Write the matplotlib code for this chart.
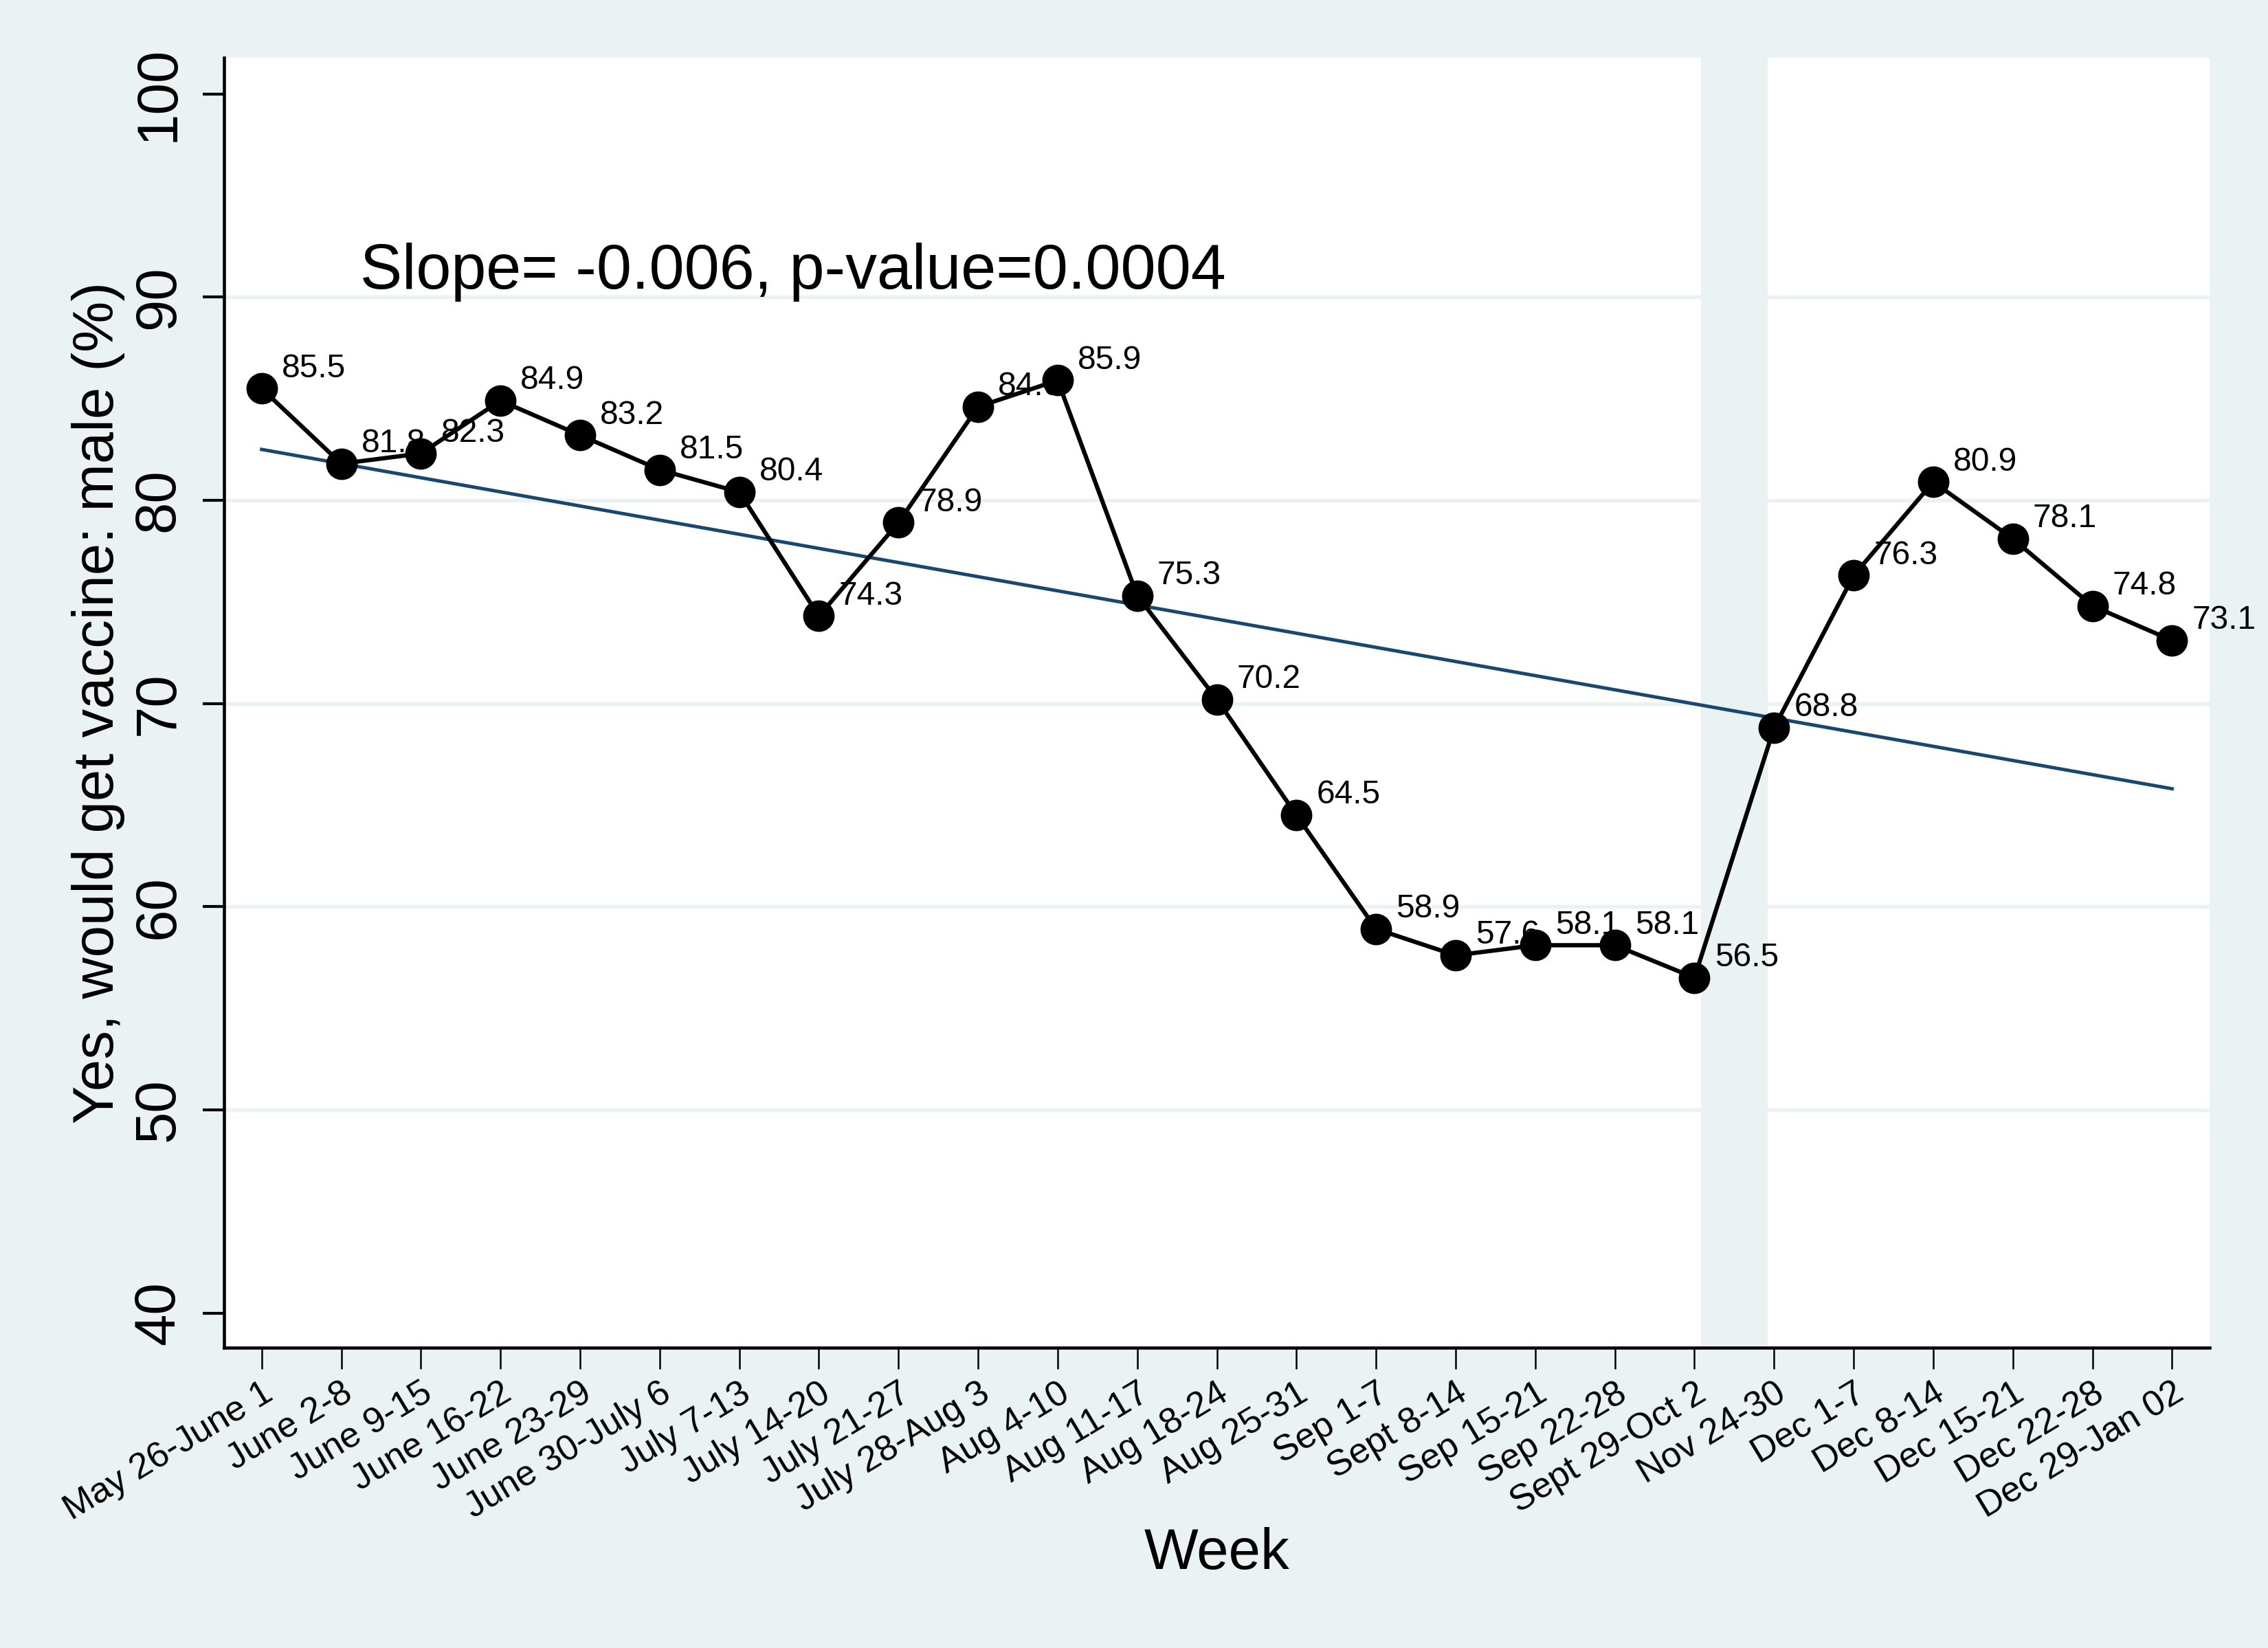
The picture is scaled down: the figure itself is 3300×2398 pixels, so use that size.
import matplotlib
matplotlib.use("Agg")
import matplotlib.pyplot as plt

# survey weeks and share of men who would get the vaccine (%)
weeks = ["May 26-June 1", "June 2-8", "June 9-15", "June 16-22", "June 23-29",
         "June 30-July 6", "July 7-13", "July 14-20", "July 21-27", "July 28-Aug 3",
         "Aug 4-10", "Aug 11-17", "Aug 18-24", "Aug 25-31", "Sep 1-7",
         "Sept 8-14", "Sep 15-21", "Sep 22-28", "Sept 29-Oct 2", "Nov 24-30",
         "Dec 1-7", "Dec 8-14", "Dec 15-21", "Dec 22-28", "Dec 29-Jan 02"]
pct_male = [85.5, 81.8, 82.3, 84.9, 83.2, 81.5, 80.4, 74.3, 78.9, 84.6,
            85.9, 75.3, 70.2, 64.5, 58.9, 57.6, 58.1, 58.1, 56.5, 68.8,
            76.3, 80.9, 78.1, 74.8, 73.1]
# fitted trend line, value at first and last week
trend_ends = [82.5, 65.8]
y_ticks = [40, 50, 60, 70, 80, 90, 100]
grid_levels = [50, 60, 70, 80, 90]
slope_text = "Slope= -0.006, p-value=0.0004"

bg = "#EAF2F3"
navy = "#1A476F"

plt.rcParams["font.family"] = ["Liberation Sans", "DejaVu Sans"]

fig = plt.figure(figsize=(11, 2398 / 300), dpi=300, facecolor=bg)
ax = fig.add_axes([0.0988, 0.1822, 0.8754, 0.7828])
ax.set_facecolor("white")

x = list(range(len(weeks)))

# light grid and the gap between the two survey rounds
for g in grid_levels:
    ax.axhline(g, color=bg, lw=1.3, zorder=0.5)
ax.axvspan(18.08, 18.92, color=bg, lw=0, zorder=0.6)

ax.plot([x[0], x[-1]], trend_ends, color=navy, lw=1.2, zorder=2)
ax.plot(x, pct_male, color="black", lw=1.5, marker="o", ms=10, zorder=4)

for xi, v in zip(x, pct_male):
    ax.annotate(f"{v:.1f}", (xi, v), xytext=(7, 4), textcoords="offset points",
                fontsize=11.5, ha="left", va="baseline", zorder=3)

ax.text(1.24, 90.4, slope_text, fontsize=22, va="baseline", ha="left")

ax.set_xlim(-0.472, 24.47)
ax.set_ylim(38.29, 101.78)

ax.set_yticks(y_ticks)
ax.tick_params(axis="y", length=7.5, width=1.0, labelsize=20, pad=6)
for lab in ax.get_yticklabels():
    lab.set_rotation(90)
    lab.set_va("center")

ax.set_xticks(x)
ax.set_xticklabels(weeks)
ax.tick_params(axis="x", length=7.5, width=0.6, labelsize=12.5, pad=2.5)
for lab in ax.get_xticklabels():
    lab.set_rotation(31)
    lab.set_ha("right")
    lab.set_rotation_mode("anchor")

for s in ["top", "right"]:
    ax.spines[s].set_visible(False)
for s in ["left", "bottom"]:
    ax.spines[s].set_linewidth(1.1)

ax.set_xlabel("Week", fontsize=20)
ax.xaxis.set_label_coords(0.5, -0.1715)
ax.xaxis.label.set_va("baseline")
ax.set_ylabel("Yes, would get vaccine: male (%)", fontsize=20)
ax.yaxis.set_label_coords(-0.050, 0.5)

fig.savefig("out.png", dpi=300, facecolor=bg)
